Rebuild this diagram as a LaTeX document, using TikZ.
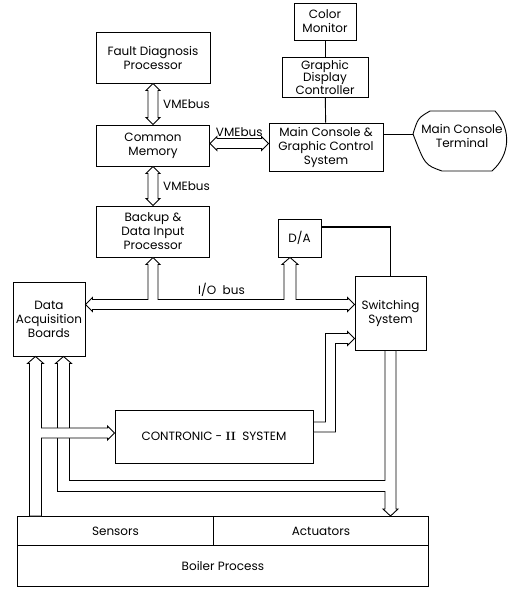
\documentclass[tikz,border=0pt]{standalone}
\usepackage{fontspec}
\setsansfont{Poppins}
\usetikzlibrary{calc,positioning}

\begin{document}
\begin{tikzpicture}[x=1pt,y=-1pt,font=\sffamily\fontsize{12}{14}\selectfont]
\tikzset{blk/.style={draw,line width=0.9pt,align=center,inner sep=1pt},
  bus/.style={draw,line width=0.9pt,line join=miter,fill=white},
  wire/.style={line width=0.9pt},
  lbl/.style={inner sep=1pt}}
\useasboundingbox (0,0) rectangle (513,589);
% boxes
\node[blk,minimum width=114pt,minimum height=51pt] (fdp) at (153,57.5) {Fault Diagnosis\\Processor};
\node[blk,minimum width=113pt,minimum height=41pt] (cmem) at (153,145.5) {Common\\Memory};
\node[blk,minimum width=113pt,minimum height=51pt] (bdip) at (153,231.5) {Backup \&\\Data Input\\Processor};
\node[blk,minimum width=62pt,minimum height=37pt] (cmon) at (325,21.5) {Color\\Monitor};
\node[blk,minimum width=86pt,minimum height=40pt,font=\sffamily\fontsize{12}{12.5}\selectfont] (gdc) at (325,77) {Graphic\\Display\\Controller};
\node[blk,minimum width=114pt,minimum height=48pt] (mcgc) at (326,147) {Main Console \&\\Graphic Control\\System};
\node[lbl,align=center] (term) at (462,136) {Main Console\\Terminal};
\node[blk,minimum width=43pt,minimum height=38pt] (dac) at (299.5,238) {D/A};
\node[blk,minimum width=71pt,minimum height=74pt] (sws) at (390.5,313) {Switching\\System};
\node[blk,minimum width=72pt,minimum height=74pt] (dab) at (49,319) {Data\\Acquisition\\Boards};
\node[blk,minimum width=198pt,minimum height=53pt] (ctr) at (214,436.5) {CONTRONIC - {\rmfamily\bfseries II}\ \ SYSTEM};
\node[blk,anchor=north west,minimum width=196pt,minimum height=29pt] (sens) at (17,516) {Sensors};
\node[blk,anchor=north west,minimum width=215pt,minimum height=29pt] (act) at (213,516) {Actuators};
\node[blk,anchor=north west,minimum width=411pt,minimum height=41pt] (boil) at (17,545) {Boiler Process};

% terminal outline
\coordinate (tt) at ($(term.center)+(-49,-2)$);
\draw[wire] (tt) .. controls ($(term.center)+(-44,-18)$) .. ($(term.center)+(-32,-25)$)
  -- ($(term.center)+(33,-25)$) .. controls ($(term.center)+(50,-6)$) and ($(term.center)+(48,19)$) .. ($(term.center)+(30,35)$)
  -- ($(term.center)+(-20,35)$) .. controls ($(term.center)+(-37,29)$) .. (tt);

% single lines
\draw[wire] (cmon) -- (gdc);
\draw[wire] (gdc) -- (mcgc);
\draw[wire] (tt) -- (tt -| mcgc.east);
\draw[line width=1.6pt] ($(dac.east)+(0,-11)$) -| (sws.north);

% VMEbus
\draw[bus] (fdp.south) -- ++(-7,7) -- ++(2,0) -- ($(cmem.north)+(-5,-7)$) -- ++(-2,0) -- (cmem.north)
  -- ++(7,-7) -- ++(-2,0) -- ($(fdp.south)+(5,7)$) -- ++(2,0) -- cycle;
\draw[bus] (cmem.south) -- ++(-7,7) -- ++(2,0) -- ($(bdip.north)+(-5,-7)$) -- ++(-2,0) -- (bdip.north)
  -- ++(7,-7) -- ++(-2,0) -- ($(cmem.south)+(5,7)$) -- ++(2,0) -- cycle;
\coordinate (vl) at ($(cmem.east)+(0,-2)$);
\coordinate (vr) at (vl -| mcgc.west);
\draw[bus] (vl) -- ++(7,-7) -- ++(0,2) -- ($(vr)+(-7,-5)$) -- ++(0,-2) -- (vr)
  -- ++(-7,7) -- ++(0,-2) -- ($(vl)+(7,5)$) -- ++(0,2) -- cycle;
\node[lbl,anchor=west] (vme1) at ($(fdp.south)!0.5!(cmem.north)+(9,0)$) {VMEbus};
\node[lbl,anchor=west] (vme2) at ($(cmem.south)!0.5!(bdip.north)+(9,0)$) {VMEbus};
\node[lbl,anchor=south] (vme3) at ($(vl)!0.5!(vr)+(0,-6)$) {VMEbus};

% I/O bus
\coordinate (iol) at ($(dab.east)+(0,-14.5)$);
\coordinate (ior) at (iol -| sws.west);
\coordinate (iop) at (bdip.south);
\coordinate (iod) at ($(dac.south)+(-9.5,0)$);
\draw[bus] (iol) -- ++(7,-7) -- ++(0,2)
  -- ($(iop |- iol)+(-5,-5)$) -- ($(iop)+(-5,7)$) -- ++(-2,0) -- (iop) -- ++(7,7) -- ++(-2,0)
  -- ($(iop |- iol)+(5,-5)$) -- ($(iod |- iol)+(-6,-5)$) -- ($(iod)+(-6,7)$) -- ++(-2,0) -- (iod) -- ++(8,7) -- ++(-2,0)
  -- ($(iod |- iol)+(6,-5)$) -- ($(ior)+(-7,-5)$) -- ++(0,-2) -- (ior) -- ++(-7,7) -- ++(0,-2)
  -- ($(iol)+(7,5)$) -- ++(0,2) -- cycle;
\node[lbl,anchor=south] (iobus) at ($(iop |- iol)!0.5!(iod |- iol)+(0,-7)$) {I/O\ \ bus};

% process side
\coordinate (da) at ($(dab.south)+(-13.5,0)$);
\coordinate (db) at ($(dab.south)+(14.5,0)$);
\coordinate (ci) at ($(ctr.west)+(0,-3.5)$);
\coordinate (co) at ($(ctr.east)+(0,-9.5)$);
\coordinate (si) at ($(sws.west)+(0,25.5)$);
\coordinate (so) at (sws.south);
\coordinate (ao) at (so |- act.north);
\coordinate (sb) at ($(ctr.south)+(0,22.5)$);
\draw[bus] ($(co)+(0,-5)$) -- ($(co)+(12,-5)$) |- ($(si)+(-7,-5)$) -- ++(0,-2) -- (si) -- ++(-7,7) -- ++(0,-2)
  -- ($(co |- si)+(22,5)$) -- ($(co)+(22,5)$) -- ($(co)+(0,5)$) -- cycle;
\draw[bus] ($(so)+(-5.5,0)$) -- ($(so |- sb)+(-5.5,-5.5)$) -- ($(db |- sb)+(6,-5.5)$) -- ($(db)+(6,7)$) -- ++(2,0) -- (db)
  -- ++(-8,7) -- ++(2,0) -- ($(db |- sb)+(-6,5.5)$) -- ($(so |- sb)+(-5.5,5.5)$) -- ($(ao)+(-5.5,-7)$) -- ++(-2,0) -- (ao)
  -- ++(7.5,-7) -- ++(-2,0) -- ($(so)+(5.5,0)$) -- cycle;
\draw[bus] ($(da |- sens.north)+(-6,0)$) -- ($(da)+(-6,7)$) -- ++(-2,0) -- (da) -- ++(8,7) -- ++(-2,0)
  -- ($(da |- ci)+(6,-5)$) -- ($(ci)+(-7,-5)$) -- ++(0,-2) -- (ci) -- ++(-7,7) -- ++(0,-2)
  -- ($(da |- ci)+(6,5)$) -- ($(da |- sens.north)+(6,0)$) -- cycle;
\end{tikzpicture}
\end{document}
